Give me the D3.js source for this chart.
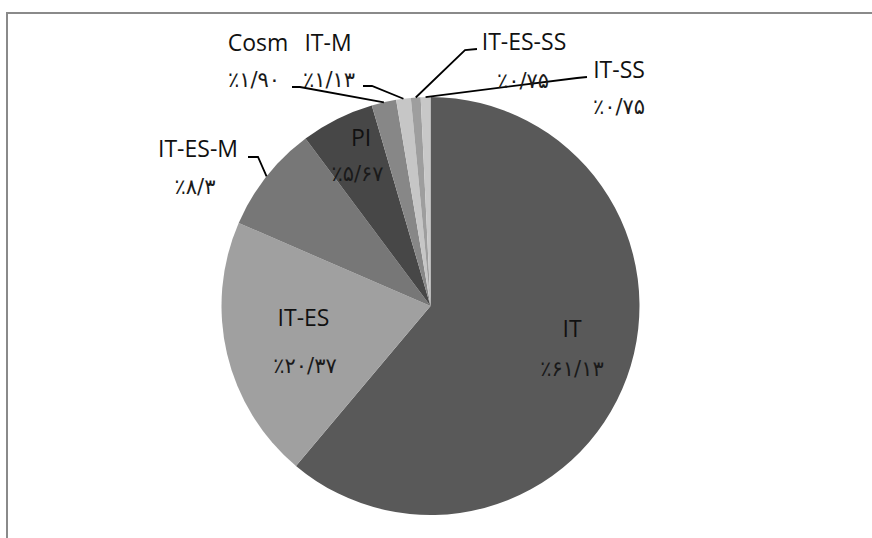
<!DOCTYPE html>
<html>
<head>
<meta charset="utf-8">
<script src="https://cdn.jsdelivr.net/npm/d3@7"></script>
<style>
  body { margin: 0; background: #fff; }
  svg { display: block; }
</style>
</head>
<body>
<div id="chart"></div>
<script>
// chart data
const categories = ["IT", "IT-ES", "IT-ES-M", "PI", "Cosm", "IT-M", "IT-ES-SS", "IT-SS"];
const values = [61.13, 20.37, 8.3, 5.67, 1.90, 1.13, 0.75, 0.75];
const percentLabels = ["٪۶۱/۱۳", "٪۲۰/۳۷", "٪۸/۳", "٪۵/۶۷", "٪۱/۹۰", "٪۱/۱۳", "٪۰/۷۵", "٪۰/۷۵"];

const width = 872, height = 538;
const cx = 430.5, cy = 306, radius = 209;

const colors = ["#595959", "#a0a0a0", "#777777", "#474747", "#878787", "#c6c6c6", "#9e9e9e", "#c8c8c8"];

// label placement, relative to pie centre (leader = start of leader line)
const labelLayout = {
    "IT":       { tx: 141.5, ty: 31,   nx: 141.5, ny: 70 },
    "IT-ES":    { tx: -127,  ty: 20,   nx: -125.5, ny: 67 },
    "IT-ES-M":  { tx: -232.5, ty: -149, nx: -235.5, ny: -112, leader: [-182.5, -149], elbow: [-172.5, -149] },
    "PI":       { tx: -69.5, ty: -160, nx: -73,   ny: -125 },
    "Cosm":     { tx: -172.5, ty: -255, nx: -176.5, ny: -219, leader: [-138.5, -219], elbow: [-130.5, -219] },
    "IT-M":     { tx: -102.5, ty: -255, nx: -101.5, ny: -219, leader: [-67.5, -220], elbow: [-58.5, -220] },
    "IT-ES-SS": { tx: 93.5,  ty: -256, nx: 92.5,  ny: -218, leader: [46.5, -257], elbow: [34.5, -256] },
    "IT-SS":    { tx: 188.5, ty: -228, nx: 188.5, ny: -192, leader: [156.5, -229], elbow: [146.5, -228] }
};

const svg = d3.select("#chart")
    .append("svg")
    .attr("width", width)
    .attr("height", height);

// outer frame (only top and left edges visible)
svg.append("rect")
    .attr("x", 7)
    .attr("y", 13)
    .attr("width", width + 20)
    .attr("height", height + 20)
    .attr("fill", "none")
    .attr("stroke", "#8a8a8a")
    .attr("stroke-width", 2);

const g = svg.append("g")
    .attr("transform", `translate(${cx},${cy})`);

const pie = d3.pie().sort(null).value(d => d.value);
const arcs = pie(categories.map((c, i) => ({ name: c, value: values[i], label: percentLabels[i], color: colors[i] })));

const arc = d3.arc().innerRadius(0).outerRadius(radius);

g.selectAll(".slice")
    .data(arcs)
    .enter().append("path")
    .attr("class", "slice")
    .attr("d", arc)
    .attr("fill", d => d.data.color);

// leader lines from label to slice edge
const edgePoint = d => {
    const a = (d.startAngle + d.endAngle) / 2;
    return [radius * Math.sin(a), -radius * Math.cos(a)];
};

g.selectAll(".leader")
    .data(arcs.filter(d => labelLayout[d.data.name].leader))
    .enter().append("polyline")
    .attr("class", "leader")
    .attr("points", d => {
        const l = labelLayout[d.data.name];
        return [l.leader, l.elbow, edgePoint(d)].map(p => p.join(",")).join(" ");
    })
    .attr("fill", "none")
    .attr("stroke", "#000")
    .attr("stroke-width", 1.8);

g.selectAll(".catLabel")
    .data(arcs)
    .enter().append("text")
    .attr("class", "catLabel")
    .attr("x", d => labelLayout[d.data.name].tx)
    .attr("y", d => labelLayout[d.data.name].ty)
    .attr("text-anchor", "middle")
    .attr("font-family", "'Open Sans', 'Noto Sans', sans-serif")
    .attr("font-size", "23px")
    .attr("fill", "#111")
    .text(d => d.data.name);

g.selectAll(".pctLabel")
    .data(arcs)
    .enter().append("text")
    .attr("class", "pctLabel")
    .attr("x", d => labelLayout[d.data.name].nx)
    .attr("y", d => labelLayout[d.data.name].ny)
    .attr("text-anchor", "middle")
    .attr("direction", "ltr")
    .attr("font-family", "'DejaVu Sans', sans-serif")
    .attr("font-size", "21px")
    .attr("fill", "#1a1a1a")
    .text(d => d.data.label);
</script>
</body>
</html>
